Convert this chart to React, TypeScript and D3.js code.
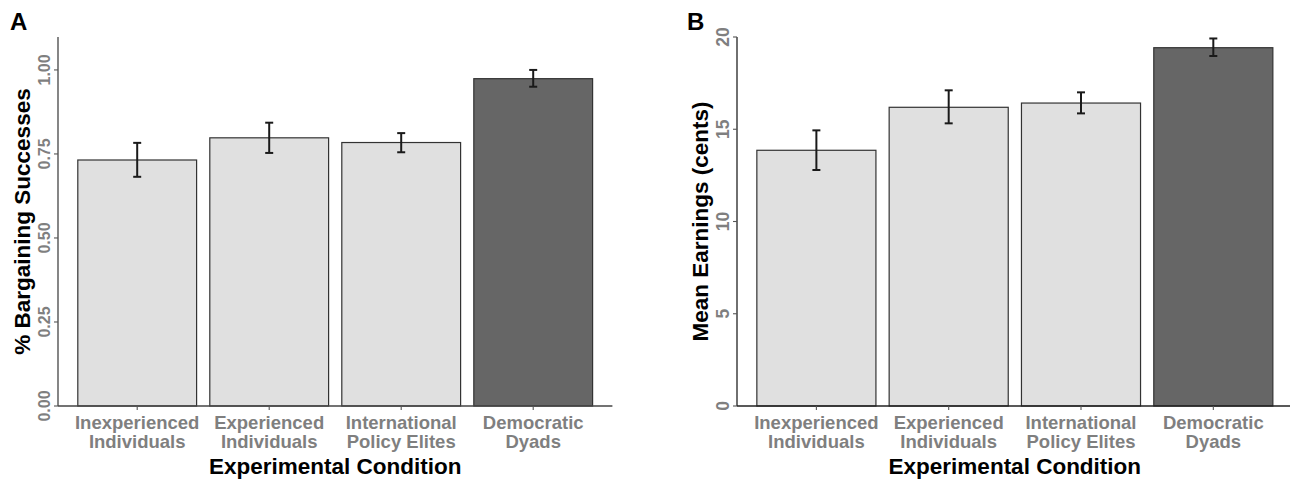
import React from "react";
import * as d3 from "d3";

const categories = [
  ["Inexperienced", "Individuals"],
  ["Experienced", "Individuals"],
  ["International", "Policy Elites"],
  ["Democratic", "Dyads"],
];
const catKeys = ["inexp", "exp", "elite", "dyad"];
const highlight = [false, false, false, true];

const successMean = [0.732, 0.798, 0.784, 0.974];
const successLo = [0.682, 0.753, 0.755, 0.95];
const successHi = [0.783, 0.843, 0.812, 1.0];
const successTicks = [0, 0.25, 0.5, 0.75, 1.0];

const earnMean = [13.86, 16.19, 16.42, 19.42];
const earnLo = [12.79, 15.32, 15.86, 18.97];
const earnHi = [14.94, 17.11, 17.0, 19.92];
const earnTicks = [0, 5, 10, 15, 20];

type PanelProps = {
  letter: string;
  x0: number;
  x1: number;
  yMax: number;
  mean: number[];
  lo: number[];
  hi: number[];
  ticks: number[];
  tickFmt: (v: number) => string;
  yTitle: string;
  yTitleX: number;
  tickLabelX: number;
  tickFont: number;
  letterX: number;
  axisColor: string;
};

const FONT = "'Liberation Sans', Arial, Helvetica, sans-serif";

function Panel(p: PanelProps) {
  const yBottom = 406;
  const yTop = 37;
  const y = d3.scaleLinear().domain([0, p.yMax]).range([yBottom, yTop]);
  const x = d3
    .scaleBand<string>()
    .domain(catKeys)
    .range([p.x0, p.x1])
    .paddingInner(0.1)
    .paddingOuter(0.15);
  const bw = x.bandwidth();
  const cap = 4;
  const midY = (yBottom + yTop) / 2;
  const midX = (p.x0 + p.x1) / 2;
  return (
    <g>
      <text x={p.letterX} y={30} fontFamily={FONT} fontWeight="bold" fontSize={24} fill="#000">
        {p.letter}
      </text>
      {catKeys.map((k, i) => (
        <rect
          key={k}
          x={x(k)}
          y={y(p.mean[i])}
          width={bw}
          height={yBottom - y(p.mean[i])}
          fill={highlight[i] ? "#666666" : "#e0e0e0"}
          stroke="#333"
          strokeWidth={1.2}
        />
      ))}
      {catKeys.map((k, i) => {
        const cx = (x(k) as number) + bw / 2;
        return (
          <g key={"e" + k} stroke="#1a1a1a" strokeWidth={2}>
            <line x1={cx} x2={cx} y1={y(p.lo[i])} y2={y(p.hi[i])} />
            <line x1={cx - cap} x2={cx + cap} y1={y(p.lo[i])} y2={y(p.lo[i])} />
            <line x1={cx - cap} x2={cx + cap} y1={y(p.hi[i])} y2={y(p.hi[i])} />
          </g>
        );
      })}
      <line x1={p.x0} x2={p.x0} y1={yTop} y2={yBottom} stroke={p.axisColor} strokeWidth={1.3} />
      <line x1={p.x0} x2={p.x1} y1={yBottom} y2={yBottom} stroke={p.axisColor} strokeWidth={1.3} />
      {p.ticks.map((t) => (
        <g key={"t" + t}>
          <line x1={p.x0 - 4} x2={p.x0} y1={y(t)} y2={y(t)} stroke="#555" strokeWidth={1.1} />
          <text
            transform={`translate(${p.tickLabelX},${y(t)}) rotate(-90)`}
            textAnchor="middle"
            fontFamily={FONT}
            fontWeight="bold"
            fontSize={p.tickFont}
            fill="#7f7f7f"
          >
            {p.tickFmt(t)}
          </text>
        </g>
      ))}
      {catKeys.map((k, i) => {
        const cx = (x(k) as number) + bw / 2;
        return (
          <g key={"x" + k}>
            <line x1={cx} x2={cx} y1={yBottom} y2={yBottom + 4} stroke="#555" strokeWidth={1.1} />
            <text x={cx} y={429} textAnchor="middle" fontFamily={FONT} fontWeight="bold" fontSize={18.5} fill="#7f7f7f">
              {categories[i][0]}
            </text>
            <text x={cx} y={448} textAnchor="middle" fontFamily={FONT} fontWeight="bold" fontSize={18.5} fill="#7f7f7f">
              {categories[i][1]}
            </text>
          </g>
        );
      })}
      <text x={midX} y={474} textAnchor="middle" fontFamily={FONT} fontWeight="bold" fontSize={22.5} fill="#000">
        Experimental Condition
      </text>
      <text
        transform={`translate(${p.yTitleX},${midY}) rotate(-90)`}
        textAnchor="middle"
        fontFamily={FONT}
        fontWeight="bold"
        fontSize={22.5}
        fill="#000"
      >
        {p.yTitle}
      </text>
    </g>
  );
}

export default function App() {
  return (
    <div style={{ position: "fixed", left: 0, top: 0, width: 1290, height: 483, background: "#fff" }}>
      <svg width={1290} height={483} viewBox="0 0 1290 483">
        <rect width={1290} height={483} fill="#fff" />
        <Panel
          letter="A"
          x0={58}
          x1={612.4}
          yMax={1.098}
          mean={successMean}
          lo={successLo}
          hi={successHi}
          ticks={successTicks}
          tickFmt={(v) => v.toFixed(2)}
          yTitle="% Bargaining Successes"
          yTitleX={30}
          tickLabelX={50}
          tickFont={16}
          letterX={10}
          axisColor="#444"
        />
        <Panel
          letter="B"
          x0={737}
          x1={1292.7}
          yMax={20}
          mean={earnMean}
          lo={earnLo}
          hi={earnHi}
          ticks={earnTicks}
          tickFmt={(v) => String(v)}
          yTitle="Mean Earnings (cents)"
          yTitleX={708}
          tickLabelX={729}
          tickFont={17.5}
          letterX={687}
          axisColor="#222"
        />
      </svg>
    </div>
  );
}
